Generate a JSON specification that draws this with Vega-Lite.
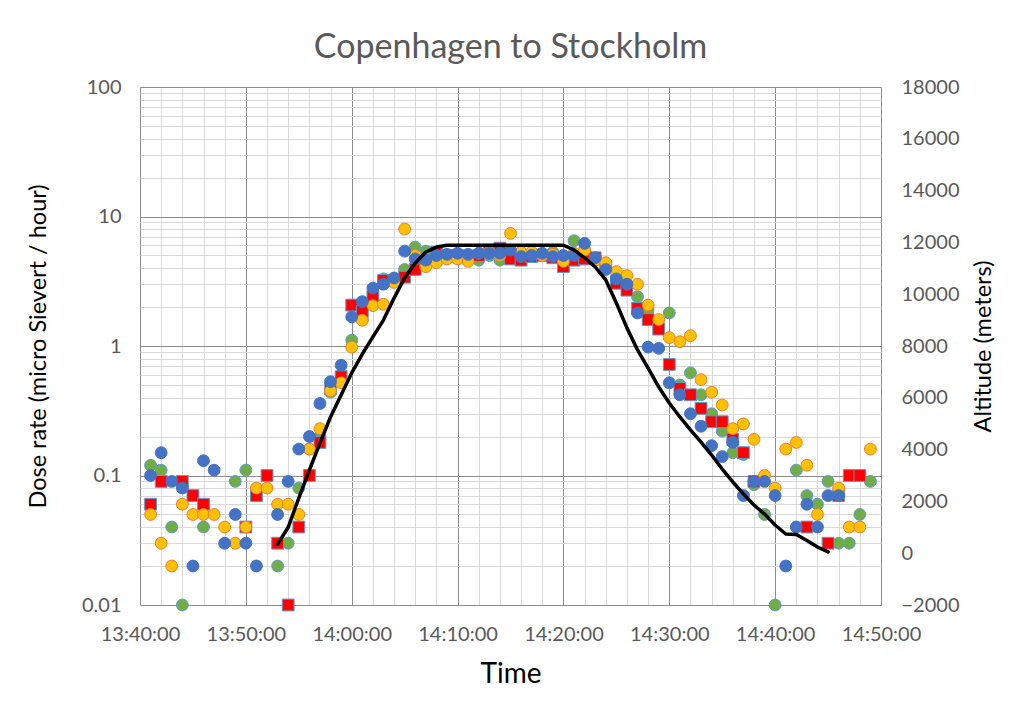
{
  "$schema": "https://vega.github.io/schema/vega-lite/v6.json",
  "autosize": {"type": "none"},
  "width": 741,
  "height": 518,
  "padding": {"left": 140, "top": 87, "right": 142, "bottom": 115},
  "background": "white",
  "config": {
    "font": "Lato",
    "view": {"stroke": null},
    "axis": {"labelFont": "Lato", "titleFont": "Lato", "labelColor": "#595959", "labelFontSize": 20, "titleFontSize": 23.5, "titleFontWeight": "normal", "titleColor": "#000000"}
  },
  "title": {"text": "Copenhagen to Stockholm", "fontSize": 34, "fontWeight": "normal", "color": "#595959", "font": "Lato", "anchor": "middle", "offset": 12},
  "datasets": {
    "pts": [
      {"t": "13:41", "s": "G", "v": 0.12}, {"t": "13:42", "s": "G", "v": 0.11}, {"t": "13:43", "s": "G", "v": 0.04}, {"t": "13:44", "s": "G", "v": 0.01},
      {"t": "13:46", "s": "G", "v": 0.04}, {"t": "13:49", "s": "G", "v": 0.09}, {"t": "13:50", "s": "G", "v": 0.11}, {"t": "13:53", "s": "G", "v": 0.02},
      {"t": "13:54", "s": "G", "v": 0.03}, {"t": "13:55", "s": "G", "v": 0.08}, {"t": "13:56", "s": "G", "v": 0.16}, {"t": "13:57", "s": "G", "v": 0.2},
      {"t": "13:58", "s": "G", "v": 0.44}, {"t": "13:59", "s": "G", "v": 0.56}, {"t": "14:00", "s": "G", "v": 1.11}, {"t": "14:01", "s": "G", "v": 1.6},
      {"t": "14:02", "s": "G", "v": 2.3}, {"t": "14:03", "s": "G", "v": 3.3}, {"t": "14:04", "s": "G", "v": 3.2}, {"t": "14:05", "s": "G", "v": 3.9},
      {"t": "14:06", "s": "G", "v": 5.8}, {"t": "14:07", "s": "G", "v": 5.4}, {"t": "14:08", "s": "G", "v": 5.0}, {"t": "14:09", "s": "G", "v": 4.9},
      {"t": "14:10", "s": "G", "v": 4.8}, {"t": "14:11", "s": "G", "v": 4.6}, {"t": "14:12", "s": "G", "v": 4.6}, {"t": "14:13", "s": "G", "v": 5.0},
      {"t": "14:14", "s": "G", "v": 4.6}, {"t": "14:15", "s": "G", "v": 4.9}, {"t": "14:16", "s": "G", "v": 4.9}, {"t": "14:17", "s": "G", "v": 5.1},
      {"t": "14:18", "s": "G", "v": 5.0}, {"t": "14:19", "s": "G", "v": 5.3}, {"t": "14:20", "s": "G", "v": 4.9}, {"t": "14:21", "s": "G", "v": 6.5},
      {"t": "14:22", "s": "G", "v": 5.4}, {"t": "14:23", "s": "G", "v": 4.6}, {"t": "14:24", "s": "G", "v": 4.3}, {"t": "14:25", "s": "G", "v": 3.4},
      {"t": "14:26", "s": "G", "v": 2.9}, {"t": "14:27", "s": "G", "v": 2.4}, {"t": "14:28", "s": "G", "v": 1.9}, {"t": "14:29", "s": "G", "v": 1.45},
      {"t": "14:30", "s": "G", "v": 1.8}, {"t": "14:31", "s": "G", "v": 0.5}, {"t": "14:32", "s": "G", "v": 0.62}, {"t": "14:33", "s": "G", "v": 0.42},
      {"t": "14:34", "s": "G", "v": 0.3}, {"t": "14:35", "s": "G", "v": 0.22}, {"t": "14:36", "s": "G", "v": 0.15}, {"t": "14:37", "s": "G", "v": 0.145},
      {"t": "14:38", "s": "G", "v": 0.085}, {"t": "14:39", "s": "G", "v": 0.05}, {"t": "14:40", "s": "G", "v": 0.01}, {"t": "14:42", "s": "G", "v": 0.11},
      {"t": "14:43", "s": "G", "v": 0.07}, {"t": "14:44", "s": "G", "v": 0.06}, {"t": "14:45", "s": "G", "v": 0.09}, {"t": "14:46", "s": "G", "v": 0.03},
      {"t": "14:47", "s": "G", "v": 0.03}, {"t": "14:48", "s": "G", "v": 0.05}, {"t": "14:49", "s": "G", "v": 0.09},
      {"t": "13:41", "s": "R", "v": 0.06}, {"t": "13:42", "s": "R", "v": 0.09}, {"t": "13:44", "s": "R", "v": 0.09}, {"t": "13:45", "s": "R", "v": 0.07},
      {"t": "13:46", "s": "R", "v": 0.06}, {"t": "13:50", "s": "R", "v": 0.04}, {"t": "13:51", "s": "R", "v": 0.07}, {"t": "13:52", "s": "R", "v": 0.1},
      {"t": "13:53", "s": "R", "v": 0.03}, {"t": "13:54", "s": "R", "v": 0.01}, {"t": "13:55", "s": "R", "v": 0.04}, {"t": "13:56", "s": "R", "v": 0.1},
      {"t": "13:57", "s": "R", "v": 0.18}, {"t": "13:58", "s": "R", "v": 0.47}, {"t": "13:59", "s": "R", "v": 0.58}, {"t": "14:00", "s": "R", "v": 2.07},
      {"t": "14:01", "s": "R", "v": 1.85}, {"t": "14:02", "s": "R", "v": 2.4}, {"t": "14:03", "s": "R", "v": 3.2}, {"t": "14:04", "s": "R", "v": 3.2},
      {"t": "14:05", "s": "R", "v": 3.4}, {"t": "14:06", "s": "R", "v": 3.9}, {"t": "14:07", "s": "R", "v": 4.4}, {"t": "14:08", "s": "R", "v": 5.3},
      {"t": "14:09", "s": "R", "v": 5.0}, {"t": "14:10", "s": "R", "v": 5.0}, {"t": "14:11", "s": "R", "v": 4.9}, {"t": "14:12", "s": "R", "v": 5.0},
      {"t": "14:13", "s": "R", "v": 5.5}, {"t": "14:14", "s": "R", "v": 5.7}, {"t": "14:15", "s": "R", "v": 4.7}, {"t": "14:16", "s": "R", "v": 4.6},
      {"t": "14:17", "s": "R", "v": 4.9}, {"t": "14:18", "s": "R", "v": 5.0}, {"t": "14:19", "s": "R", "v": 4.8}, {"t": "14:20", "s": "R", "v": 4.1},
      {"t": "14:21", "s": "R", "v": 4.6}, {"t": "14:22", "s": "R", "v": 4.7}, {"t": "14:23", "s": "R", "v": 4.8}, {"t": "14:24", "s": "R", "v": 4.1},
      {"t": "14:25", "s": "R", "v": 3.05}, {"t": "14:26", "s": "R", "v": 2.7}, {"t": "14:27", "s": "R", "v": 1.95}, {"t": "14:28", "s": "R", "v": 1.6},
      {"t": "14:29", "s": "R", "v": 1.35}, {"t": "14:30", "s": "R", "v": 0.72}, {"t": "14:31", "s": "R", "v": 0.47}, {"t": "14:32", "s": "R", "v": 0.42},
      {"t": "14:33", "s": "R", "v": 0.33}, {"t": "14:34", "s": "R", "v": 0.26}, {"t": "14:35", "s": "R", "v": 0.26}, {"t": "14:36", "s": "R", "v": 0.19},
      {"t": "14:37", "s": "R", "v": 0.15}, {"t": "14:38", "s": "R", "v": 0.09}, {"t": "14:43", "s": "R", "v": 0.04}, {"t": "14:45", "s": "R", "v": 0.03},
      {"t": "14:46", "s": "R", "v": 0.07}, {"t": "14:47", "s": "R", "v": 0.1}, {"t": "14:48", "s": "R", "v": 0.1},
      {"t": "13:41", "s": "O", "v": 0.05}, {"t": "13:42", "s": "O", "v": 0.03}, {"t": "13:43", "s": "O", "v": 0.02}, {"t": "13:44", "s": "O", "v": 0.06},
      {"t": "13:45", "s": "O", "v": 0.05}, {"t": "13:46", "s": "O", "v": 0.05}, {"t": "13:47", "s": "O", "v": 0.05}, {"t": "13:48", "s": "O", "v": 0.04},
      {"t": "13:49", "s": "O", "v": 0.03}, {"t": "13:50", "s": "O", "v": 0.04}, {"t": "13:51", "s": "O", "v": 0.08}, {"t": "13:52", "s": "O", "v": 0.08},
      {"t": "13:53", "s": "O", "v": 0.06}, {"t": "13:54", "s": "O", "v": 0.06}, {"t": "13:55", "s": "O", "v": 0.05}, {"t": "13:56", "s": "O", "v": 0.16},
      {"t": "13:57", "s": "O", "v": 0.23}, {"t": "13:58", "s": "O", "v": 0.45}, {"t": "13:59", "s": "O", "v": 0.52}, {"t": "14:00", "s": "O", "v": 0.98},
      {"t": "14:01", "s": "O", "v": 1.58}, {"t": "14:02", "s": "O", "v": 2.05}, {"t": "14:03", "s": "O", "v": 2.1}, {"t": "14:04", "s": "O", "v": 3.1},
      {"t": "14:05", "s": "O", "v": 8.0}, {"t": "14:06", "s": "O", "v": 5.0}, {"t": "14:07", "s": "O", "v": 4.1}, {"t": "14:08", "s": "O", "v": 4.4},
      {"t": "14:09", "s": "O", "v": 4.7}, {"t": "14:10", "s": "O", "v": 4.7}, {"t": "14:11", "s": "O", "v": 4.5}, {"t": "14:12", "s": "O", "v": 5.2},
      {"t": "14:13", "s": "O", "v": 5.3}, {"t": "14:14", "s": "O", "v": 5.0}, {"t": "14:15", "s": "O", "v": 7.4}, {"t": "14:16", "s": "O", "v": 5.3},
      {"t": "14:17", "s": "O", "v": 5.3}, {"t": "14:18", "s": "O", "v": 5.0}, {"t": "14:19", "s": "O", "v": 5.1}, {"t": "14:20", "s": "O", "v": 4.5},
      {"t": "14:21", "s": "O", "v": 5.2}, {"t": "14:22", "s": "O", "v": 5.5}, {"t": "14:23", "s": "O", "v": 4.6}, {"t": "14:24", "s": "O", "v": 4.4},
      {"t": "14:25", "s": "O", "v": 3.75}, {"t": "14:26", "s": "O", "v": 3.5}, {"t": "14:27", "s": "O", "v": 3.0}, {"t": "14:28", "s": "O", "v": 2.07},
      {"t": "14:29", "s": "O", "v": 1.6}, {"t": "14:30", "s": "O", "v": 1.16}, {"t": "14:31", "s": "O", "v": 1.08}, {"t": "14:32", "s": "O", "v": 1.2},
      {"t": "14:33", "s": "O", "v": 0.55}, {"t": "14:34", "s": "O", "v": 0.44}, {"t": "14:35", "s": "O", "v": 0.35}, {"t": "14:36", "s": "O", "v": 0.23},
      {"t": "14:37", "s": "O", "v": 0.25}, {"t": "14:38", "s": "O", "v": 0.19}, {"t": "14:39", "s": "O", "v": 0.1}, {"t": "14:40", "s": "O", "v": 0.08},
      {"t": "14:41", "s": "O", "v": 0.16}, {"t": "14:42", "s": "O", "v": 0.18}, {"t": "14:43", "s": "O", "v": 0.12}, {"t": "14:44", "s": "O", "v": 0.05},
      {"t": "14:46", "s": "O", "v": 0.08}, {"t": "14:47", "s": "O", "v": 0.04}, {"t": "14:48", "s": "O", "v": 0.04}, {"t": "14:49", "s": "O", "v": 0.16},
      {"t": "13:41", "s": "B", "v": 0.1}, {"t": "13:42", "s": "B", "v": 0.15}, {"t": "13:43", "s": "B", "v": 0.09}, {"t": "13:44", "s": "B", "v": 0.08},
      {"t": "13:45", "s": "B", "v": 0.02}, {"t": "13:46", "s": "B", "v": 0.13}, {"t": "13:47", "s": "B", "v": 0.11}, {"t": "13:48", "s": "B", "v": 0.03},
      {"t": "13:49", "s": "B", "v": 0.05}, {"t": "13:50", "s": "B", "v": 0.03}, {"t": "13:51", "s": "B", "v": 0.02}, {"t": "13:53", "s": "B", "v": 0.05},
      {"t": "13:54", "s": "B", "v": 0.09}, {"t": "13:55", "s": "B", "v": 0.16}, {"t": "13:56", "s": "B", "v": 0.2}, {"t": "13:57", "s": "B", "v": 0.36},
      {"t": "13:58", "s": "B", "v": 0.53}, {"t": "13:59", "s": "B", "v": 0.71}, {"t": "14:00", "s": "B", "v": 1.68}, {"t": "14:01", "s": "B", "v": 2.2},
      {"t": "14:02", "s": "B", "v": 2.8}, {"t": "14:03", "s": "B", "v": 3.0}, {"t": "14:04", "s": "B", "v": 3.35}, {"t": "14:05", "s": "B", "v": 5.4},
      {"t": "14:06", "s": "B", "v": 4.7}, {"t": "14:07", "s": "B", "v": 4.6}, {"t": "14:08", "s": "B", "v": 5.0}, {"t": "14:09", "s": "B", "v": 5.1},
      {"t": "14:10", "s": "B", "v": 5.2}, {"t": "14:11", "s": "B", "v": 5.1}, {"t": "14:12", "s": "B", "v": 5.2}, {"t": "14:13", "s": "B", "v": 5.2},
      {"t": "14:14", "s": "B", "v": 5.2}, {"t": "14:15", "s": "B", "v": 5.5}, {"t": "14:16", "s": "B", "v": 4.9}, {"t": "14:17", "s": "B", "v": 5.0},
      {"t": "14:18", "s": "B", "v": 5.2}, {"t": "14:19", "s": "B", "v": 4.9}, {"t": "14:20", "s": "B", "v": 5.0}, {"t": "14:21", "s": "B", "v": 5.0},
      {"t": "14:22", "s": "B", "v": 6.2}, {"t": "14:23", "s": "B", "v": 4.8}, {"t": "14:24", "s": "B", "v": 3.9}, {"t": "14:25", "s": "B", "v": 3.3},
      {"t": "14:26", "s": "B", "v": 3.0}, {"t": "14:27", "s": "B", "v": 1.8}, {"t": "14:28", "s": "B", "v": 0.98}, {"t": "14:29", "s": "B", "v": 0.96},
      {"t": "14:30", "s": "B", "v": 0.52}, {"t": "14:31", "s": "B", "v": 0.42}, {"t": "14:32", "s": "B", "v": 0.3}, {"t": "14:33", "s": "B", "v": 0.24},
      {"t": "14:34", "s": "B", "v": 0.17}, {"t": "14:35", "s": "B", "v": 0.14}, {"t": "14:36", "s": "B", "v": 0.18}, {"t": "14:37", "s": "B", "v": 0.07},
      {"t": "14:38", "s": "B", "v": 0.09}, {"t": "14:39", "s": "B", "v": 0.09}, {"t": "14:40", "s": "B", "v": 0.07}, {"t": "14:41", "s": "B", "v": 0.02},
      {"t": "14:42", "s": "B", "v": 0.04}, {"t": "14:43", "s": "B", "v": 0.06}, {"t": "14:44", "s": "B", "v": 0.04}, {"t": "14:45", "s": "B", "v": 0.07},
      {"t": "14:46", "s": "B", "v": 0.07}
    ],
    "alt": [
      {"t": "13:53", "a": 350}, {"t": "13:54", "a": 1000}, {"t": "13:55", "a": 2130}, {"t": "13:56", "a": 3210},
      {"t": "13:57", "a": 4250}, {"t": "13:58", "a": 5260}, {"t": "13:59", "a": 6110}, {"t": "14:00", "a": 6960},
      {"t": "14:01", "a": 7690}, {"t": "14:02", "a": 8350}, {"t": "14:03", "a": 9000}, {"t": "14:04", "a": 9850},
      {"t": "14:05", "a": 10630}, {"t": "14:06", "a": 11200}, {"t": "14:07", "a": 11630}, {"t": "14:08", "a": 11820},
      {"t": "14:09", "a": 11890}, {"t": "14:10", "a": 11890}, {"t": "14:11", "a": 11890}, {"t": "14:12", "a": 11890},
      {"t": "14:13", "a": 11890}, {"t": "14:14", "a": 11890}, {"t": "14:15", "a": 11890}, {"t": "14:16", "a": 11890},
      {"t": "14:17", "a": 11890}, {"t": "14:18", "a": 11890}, {"t": "14:19", "a": 11890}, {"t": "14:20", "a": 11890},
      {"t": "14:21", "a": 11710}, {"t": "14:22", "a": 11400}, {"t": "14:23", "a": 11050}, {"t": "14:24", "a": 10550},
      {"t": "14:25", "a": 9660}, {"t": "14:26", "a": 8700}, {"t": "14:27", "a": 7850}, {"t": "14:28", "a": 7150},
      {"t": "14:29", "a": 6420}, {"t": "14:30", "a": 5800}, {"t": "14:31", "a": 5260}, {"t": "14:32", "a": 4760},
      {"t": "14:33", "a": 4290}, {"t": "14:34", "a": 3790}, {"t": "14:35", "a": 3250}, {"t": "14:36", "a": 2750},
      {"t": "14:37", "a": 2290}, {"t": "14:38", "a": 1860}, {"t": "14:39", "a": 1510}, {"t": "14:40", "a": 1090},
      {"t": "14:41", "a": 740}, {"t": "14:42", "a": 720}, {"t": "14:43", "a": 490}, {"t": "14:44", "a": 240},
      {"t": "14:45", "a": 50}
    ]
  },
  "layer": [
    {
      "data": {"name": "pts", "format": {"parse": {"t": "utc:'%H:%M'"}}},
      "mark": {"type": "point", "filled": true, "opacity": 1, "strokeWidth": 1, "size": 140},
      "encoding": {
        "x": {
          "field": "t", "type": "temporal",
          "scale": {"type": "utc", "domain": [{"year": 1900, "month": 1, "date": 1, "hours": 13, "minutes": 40, "utc": true}, {"year": 1900, "month": 1, "date": 1, "hours": 14, "minutes": 50, "utc": true}], "nice": false},
          "axis": {
            "orient": "bottom",
            "title": null,
            "values": [
              {"year": 1900, "month": 1, "date": 1, "hours": 13, "minutes": 42, "utc": true},
              {"year": 1900, "month": 1, "date": 1, "hours": 13, "minutes": 44, "utc": true}, {"year": 1900, "month": 1, "date": 1, "hours": 13, "minutes": 46, "utc": true},
              {"year": 1900, "month": 1, "date": 1, "hours": 13, "minutes": 48, "utc": true},
              {"year": 1900, "month": 1, "date": 1, "hours": 13, "minutes": 52, "utc": true}, {"year": 1900, "month": 1, "date": 1, "hours": 13, "minutes": 54, "utc": true},
              {"year": 1900, "month": 1, "date": 1, "hours": 13, "minutes": 56, "utc": true}, {"year": 1900, "month": 1, "date": 1, "hours": 13, "minutes": 58, "utc": true},
              {"year": 1900, "month": 1, "date": 1, "hours": 14, "minutes": 2, "utc": true},
              {"year": 1900, "month": 1, "date": 1, "hours": 14, "minutes": 4, "utc": true}, {"year": 1900, "month": 1, "date": 1, "hours": 14, "minutes": 6, "utc": true},
              {"year": 1900, "month": 1, "date": 1, "hours": 14, "minutes": 8, "utc": true},
              {"year": 1900, "month": 1, "date": 1, "hours": 14, "minutes": 12, "utc": true}, {"year": 1900, "month": 1, "date": 1, "hours": 14, "minutes": 14, "utc": true},
              {"year": 1900, "month": 1, "date": 1, "hours": 14, "minutes": 16, "utc": true}, {"year": 1900, "month": 1, "date": 1, "hours": 14, "minutes": 18, "utc": true},
              {"year": 1900, "month": 1, "date": 1, "hours": 14, "minutes": 22, "utc": true},
              {"year": 1900, "month": 1, "date": 1, "hours": 14, "minutes": 24, "utc": true}, {"year": 1900, "month": 1, "date": 1, "hours": 14, "minutes": 26, "utc": true},
              {"year": 1900, "month": 1, "date": 1, "hours": 14, "minutes": 28, "utc": true},
              {"year": 1900, "month": 1, "date": 1, "hours": 14, "minutes": 32, "utc": true}, {"year": 1900, "month": 1, "date": 1, "hours": 14, "minutes": 34, "utc": true},
              {"year": 1900, "month": 1, "date": 1, "hours": 14, "minutes": 36, "utc": true}, {"year": 1900, "month": 1, "date": 1, "hours": 14, "minutes": 38, "utc": true},
              {"year": 1900, "month": 1, "date": 1, "hours": 14, "minutes": 42, "utc": true},
              {"year": 1900, "month": 1, "date": 1, "hours": 14, "minutes": 44, "utc": true}, {"year": 1900, "month": 1, "date": 1, "hours": 14, "minutes": 46, "utc": true},
              {"year": 1900, "month": 1, "date": 1, "hours": 14, "minutes": 48, "utc": true}
            ],
            "grid": true, "labels": false, "ticks": false, "domain": false,
            "gridColor": "#d9d9d9"
          }
        },
        "y": {
          "field": "v", "type": "quantitative",
          "scale": {"type": "log", "domain": [0.01, 100], "nice": false},
          "axis": {
            "title": "Dose rate (micro Sievert / hour)",
            "values": [0.01, 0.02, 0.03, 0.04, 0.05, 0.06, 0.07, 0.08, 0.09, 0.1, 0.2, 0.3, 0.4, 0.5, 0.6, 0.7, 0.8, 0.9, 1, 2, 3, 4, 5, 6, 7, 8, 9, 10, 20, 30, 40, 50, 60, 70, 80, 90, 100],
            "labelExpr": "indexof([0.01, 0.1, 1, 10, 100], datum.value) >= 0 ? format(datum.value, '~g') : ''",
            "labelOverlap": false, "labelPadding": 19, "ticks": false, "domain": false, "titlePadding": 31,
            "gridColor": {"condition": {"test": "indexof([0.01, 0.1, 1, 10, 100], datum.value) >= 0", "value": "#8c8c8c"}, "value": "#d9d9d9"}
          }
        },
        "shape": {"field": "s", "type": "nominal", "scale": {"domain": ["G", "R", "O", "B"], "range": ["circle", "square", "circle", "circle"]}, "legend": null},
        "fill": {"field": "s", "type": "nominal", "scale": {"domain": ["G", "R", "O", "B"], "range": ["#70AD47", "#FF0000", "#FFC000", "#4472C4"]}, "legend": null},
        "stroke": {"field": "s", "type": "nominal", "scale": {"domain": ["G", "R", "O", "B"], "range": ["#5B9BD5", "#5B9BD5", "#ED7D31", "#4472C4"]}, "legend": null}
      }
    },
    {
      "data": {"name": "alt", "format": {"parse": {"t": "utc:'%H:%M'"}}},
      "mark": {"type": "line", "color": "#000000", "strokeWidth": 3.5, "strokeCap": "round", "strokeJoin": "round"},
      "encoding": {
        "x": {
          "field": "t", "type": "temporal",
          "axis": {
            "orient": "bottom",
            "title": "Time",
            "values": [
              {"year": 1900, "month": 1, "date": 1, "hours": 13, "minutes": 40, "utc": true}, {"year": 1900, "month": 1, "date": 1, "hours": 13, "minutes": 50, "utc": true},
              {"year": 1900, "month": 1, "date": 1, "hours": 14, "minutes": 0, "utc": true}, {"year": 1900, "month": 1, "date": 1, "hours": 14, "minutes": 10, "utc": true},
              {"year": 1900, "month": 1, "date": 1, "hours": 14, "minutes": 20, "utc": true}, {"year": 1900, "month": 1, "date": 1, "hours": 14, "minutes": 30, "utc": true},
              {"year": 1900, "month": 1, "date": 1, "hours": 14, "minutes": 40, "utc": true}, {"year": 1900, "month": 1, "date": 1, "hours": 14, "minutes": 50, "utc": true}
            ],
            "labelExpr": "utcFormat(datum.value, '%H:%M:%S')",
            "labelOverlap": false, "labelFlush": false, "labelPadding": 19,
            "grid": true, "ticks": false, "domain": false, "titlePadding": 16, "titleFontSize": 28,
            "gridColor": "#8c8c8c"
          }
        },
        "y": {
          "field": "a", "type": "quantitative",
          "scale": {"domain": [-2000, 18000], "nice": false, "zero": false},
          "axis": {"orient": "right", "title": "Altitude (meters)", "values": [-2000, 0, 2000, 4000, 6000, 8000, 10000, 12000, 14000, 16000, 18000], "format": "d", "grid": false, "ticks": false, "domain": false, "labelPadding": 20, "titleAngle": 270, "titlePadding": 37}
        }
      }
    }
  ],
  "resolve": {"scale": {"y": "independent"}, "axis": {"x": "independent"}}
}
